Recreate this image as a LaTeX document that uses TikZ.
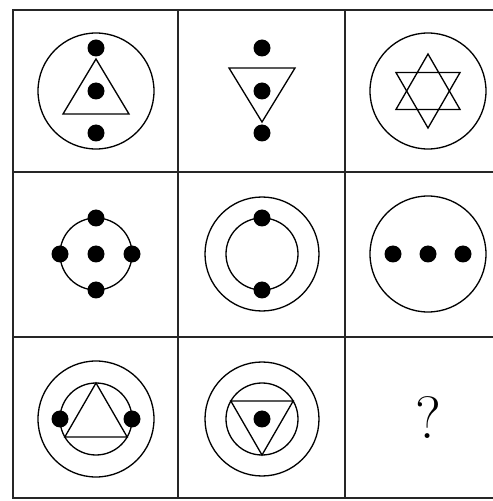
\documentclass[tikz,border=0pt]{standalone}
\usepackage{tikz}

\begin{document}
\begin{tikzpicture}[
    x=0.02cm, y=0.02cm,
    grid/.style={line width=1.3pt, color=black!85},
    ring/.style={line width=0.75pt},
    tri/.style={line width=0.75pt, line join=miter},
    dot/.style={fill=black},
    qmark/.style={font=\fontsize{34}{40}\selectfont}
]
\useasboundingbox (0,0) rectangle (493,501);
\clip (0,0) rectangle (493,501);

% Grid (right border falls outside the page)
\draw[grid] (13,3) rectangle (511,491);
\draw[grid] (178,3) -- (178,491);
\draw[grid] (345,3) -- (345,491);
\draw[grid] (13,329) -- (511,329);
\draw[grid] (13,164) -- (511,164);

% Row 1
\begin{scope}[shift={(96,410)}]
  \draw[ring] (0,0) circle (58);
  \draw[tri] (0,32) -- (-33,-23) -- (33,-23) -- cycle;
  \fill[dot] (0,43) circle (8.5);
  \fill[dot] (0,0) circle (8.5);
  \fill[dot] (0,-42) circle (8.5);
\end{scope}

\begin{scope}[shift={(262,410)}]
  \draw[tri] (-33,23) -- (33,23) -- (0,-31) -- cycle;
  \fill[dot] (0,43) circle (8.5);
  \fill[dot] (0,0) circle (8.5);
  \fill[dot] (0,-42) circle (8.5);
\end{scope}

\begin{scope}[shift={(428,410)}]
  \draw[ring] (0,0) circle (58);
  \draw[tri] (90:37) -- (210:37) -- (330:37) -- cycle;
  \draw[tri] (270:37) -- (30:37) -- (150:37) -- cycle;
\end{scope}

% Row 2
\begin{scope}[shift={(96,247)}]
  \draw[ring] (0,0) circle (36);
  \fill[dot] (0,0) circle (8.5);
  \fill[dot] (0,36) circle (8.5);
  \fill[dot] (0,-36) circle (8.5);
  \fill[dot] (-36,0) circle (8.5);
  \fill[dot] (36,0) circle (8.5);
\end{scope}

\begin{scope}[shift={(262,247)}]
  \draw[ring] (0,0) circle (57);
  \draw[ring] (0,0) circle (36);
  \fill[dot] (0,36) circle (8.5);
  \fill[dot] (0,-36) circle (8.5);
\end{scope}

\begin{scope}[shift={(428,247)}]
  \draw[ring] (0,0) circle (58);
  \fill[dot] (-35,0) circle (8.5);
  \fill[dot] (0,0) circle (8.5);
  \fill[dot] (35,0) circle (8.5);
\end{scope}

% Row 3
\begin{scope}[shift={(96,82)}]
  \draw[ring] (0,0) circle (58);
  \draw[ring] (0,0) circle (36);
  \draw[tri] (90:36) -- (210:36) -- (330:36) -- cycle;
  \fill[dot] (-36,0) circle (8.5);
  \fill[dot] (36,0) circle (8.5);
\end{scope}

\begin{scope}[shift={(262,82)}]
  \draw[ring] (0,0) circle (57);
  \draw[ring] (0,0) circle (36);
  \draw[tri] (270:36) -- (30:36) -- (150:36) -- cycle;
  \fill[dot] (0,0) circle (8.5);
\end{scope}

\node[qmark] (q) at (428,83) {?};
\end{tikzpicture}
\end{document}
